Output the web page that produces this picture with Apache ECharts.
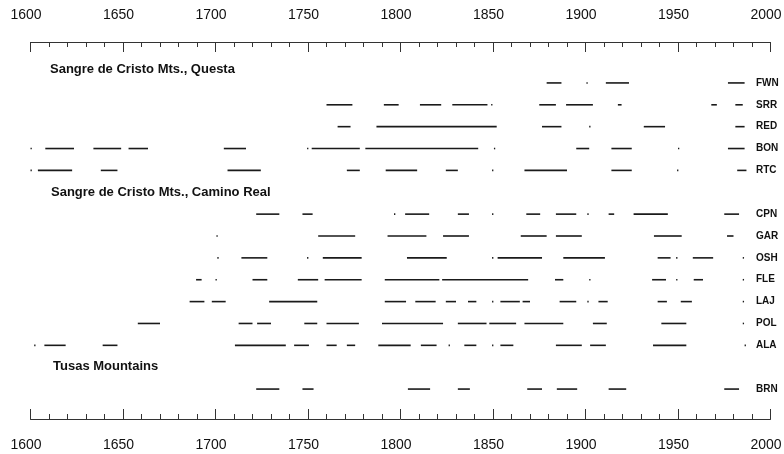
<!DOCTYPE html>
<html>
<head>
<meta charset="utf-8">
<script src="https://cdn.jsdelivr.net/npm/echarts@6/dist/echarts.min.js"></script>
<style>
    html, body { margin: 0; padding: 0; background: #fff; }
    #chart { width: 784px; height: 454px; }
</style>
</head>
<body>
<div id="chart"></div>
<script>
// rows top to bottom; the two group names sit in their own (empty) rows
const rows = ['FWN', 'SRR', 'RED', 'BON', 'RTC', 'Sangre de Cristo Mts., Camino Real',
    'CPN', 'GAR', 'OSH', 'FLE', 'LAJ', 'POL', 'ALA', 'Tusas Mountains', 'BRN']
const groupTitles = ['Sangre de Cristo Mts., Questa', 'Sangre de Cristo Mts., Camino Real', 'Tusas Mountains']
const yearMin = 1600
const yearMax = 2000
const yearStep = 50

// [start year, end year] of each dated segment
const FWN = [[1879, 1887], [1900.5, 1901.2], [1911, 1923.5], [1977, 1986]]
const SRR = [[1760, 1774], [1791, 1799], [1810.5, 1822], [1828, 1847], [1849, 1849.7], [1875, 1884],
    [1889.5, 1904], [1917.5, 1919.5], [1968, 1971], [1981, 1985]]
const RED = [[1766, 1773], [1787, 1852], [1876.5, 1887], [1902, 1902.7], [1931.5, 1943], [1981, 1986]]
const BON = [[1600, 1600.7], [1608, 1623.5], [1634, 1649], [1653, 1663.5], [1704.5, 1716.5], [1749.5, 1750.2],
    [1752, 1778], [1781, 1842], [1850.5, 1851.2], [1895, 1902], [1914, 1925], [1950, 1950.7], [1977, 1986]]
const RTC = [[1600, 1600.7], [1604, 1622.5], [1638, 1647], [1706.5, 1724.5], [1771, 1778], [1792, 1809],
    [1824.5, 1831], [1849.5, 1850.2], [1867, 1890], [1914, 1925], [1949.5, 1950.2], [1982, 1987]]
const CPN = [[1722, 1734.5], [1747, 1752.5], [1796.5, 1797.2], [1802.5, 1815.5], [1831, 1837], [1849.5, 1850.2],
    [1868, 1875.5], [1884, 1895], [1901, 1901.7], [1912.5, 1915.5], [1926, 1944.5], [1975, 1983]]
const GAR = [[1700.5, 1701.2], [1755.5, 1775.5], [1793, 1814], [1823, 1837], [1865, 1879], [1884, 1898],
    [1937, 1952], [1976.5, 1980]]
const OSH = [[1701, 1701.7], [1714, 1728], [1749.5, 1750.2], [1758, 1779], [1803.5, 1825], [1849.5, 1850.2],
    [1852.5, 1876.5], [1888, 1910.5], [1939, 1946], [1949, 1949.7], [1958, 1969], [1985, 1985.7]]
const FLE = [[1689.5, 1692.5], [1700, 1700.7], [1720, 1728], [1744.5, 1755.5], [1759, 1779], [1791.5, 1821],
    [1822.5, 1869], [1883.5, 1888], [1902, 1902.7], [1936, 1943.5], [1949, 1949.7], [1958.5, 1963.5], [1985, 1985.7]]
const LAJ = [[1686, 1694], [1698, 1705.5], [1729, 1755], [1791.5, 1803], [1808, 1819], [1824.5, 1830],
    [1836.5, 1841], [1849.5, 1850.2], [1854, 1864.5], [1866, 1870], [1886, 1895], [1901, 1901.7],
    [1907, 1912], [1939, 1944], [1951.5, 1957.5], [1985, 1985.7]]
const POL = [[1658, 1670], [1712.5, 1720], [1722.5, 1730], [1748, 1755], [1760, 1777.5], [1790, 1823],
    [1831, 1846.5], [1848, 1862.5], [1867, 1888], [1904, 1911.5], [1941, 1954.5], [1985, 1985.7]]
const ALA = [[1602, 1602.7], [1607.5, 1619], [1639, 1647], [1710.5, 1738], [1742.5, 1750.5], [1760, 1765.5],
    [1771, 1775.5], [1788, 1805.5], [1811, 1819.5], [1826, 1826.7], [1834.5, 1841], [1849.5, 1850.2],
    [1854, 1861], [1884, 1898], [1902.5, 1911], [1936.5, 1954.5], [1986, 1986.7]]
const BRN = [[1722, 1734.5], [1747, 1753], [1804, 1816], [1831, 1837.5], [1868.5, 1876.5], [1884.5, 1895.5],
    [1912.5, 1922], [1975, 1983]]

const segments = { FWN, SRR, RED, BON, RTC, CPN, GAR, OSH, FLE, LAJ, POL, ALA, BRN }

const data = []
rows.forEach((name, i) => {
    (segments[name] || []).forEach(s => data.push([s[0], s[1], i]))
})

const font = 'Liberation Sans, Arial, Helvetica, sans-serif'
const titleFont = 'bold 13px ' + font

const xAxisBase = {
    type: 'value',
    min: yearMin,
    max: yearMax,
    interval: yearStep,
    axisLine: { show: true, lineStyle: { color: '#333', width: 1 } },
    axisTick: { show: true, inside: true, length: 10, lineStyle: { color: '#333', width: 1 } },
    minorTick: { show: true, splitNumber: 5, length: 5, lineStyle: { color: '#333', width: 1 } },
    splitLine: { show: false },
    minorSplitLine: { show: false },
    axisLabel: {
        color: '#111', fontSize: 14, fontFamily: font,
        showMinLabel: true, showMaxLabel: true,
        padding: [0, 9, 0, 0],
        formatter: v => String(v)
    }
}

const chart = echarts.init(document.getElementById('chart'))

chart.setOption({
    backgroundColor: '#fff',
    animation: false,
    grid: { left: 30.5, right: 13.5, top: 72, bottom: 54, outerBoundsMode: 'none', containLabel: false },
    xAxis: [
        Object.assign({}, xAxisBase, {
            position: 'top', offset: 30,
            axisLabel: Object.assign({}, xAxisBase.axisLabel, { margin: 20 })
        }),
        Object.assign({}, xAxisBase, {
            position: 'bottom', offset: 19,
            axisLabel: Object.assign({}, xAxisBase.axisLabel, { margin: 19 })
        })
    ],
    yAxis: {
        type: 'category',
        data: rows,
        inverse: true,
        position: 'right',
        offset: -14.5,
        axisLine: { show: false },
        axisTick: { show: false },
        splitLine: { show: false },
        axisLabel: {
            interval: 0,
            margin: 0,
            align: 'left',
            fontSize: 10,
            fontWeight: 'bold',
            fontFamily: font,
            color: '#111',
            formatter: v => (groupTitles.includes(v) ? '' : v)
        }
    },
    graphic: [
        { type: 'text', left: 50, top: 63, style: { text: groupTitles[0], font: titleFont, fill: '#111' } },
        { type: 'text', left: 51, top: 186, style: { text: groupTitles[1], font: titleFont, fill: '#111' } },
        { type: 'text', left: 53, top: 360, style: { text: groupTitles[2], font: titleFont, fill: '#111' } }
    ],
    series: [
        {
            type: 'custom',
            xAxisIndex: 0,
            encode: { x: [0, 1], y: 2 },
            renderItem: (params, api) => {
                const a = api.coord([api.value(0), api.value(2)])
                const b = api.coord([api.value(1), api.value(2)])
                return {
                    type: 'line',
                    shape: { x1: a[0], y1: a[1], x2: b[0], y2: b[1] },
                    style: { stroke: '#1a1a1a', lineWidth: 1.6 }
                }
            },
            data
        }
    ]
})
</script>
</body>
</html>
